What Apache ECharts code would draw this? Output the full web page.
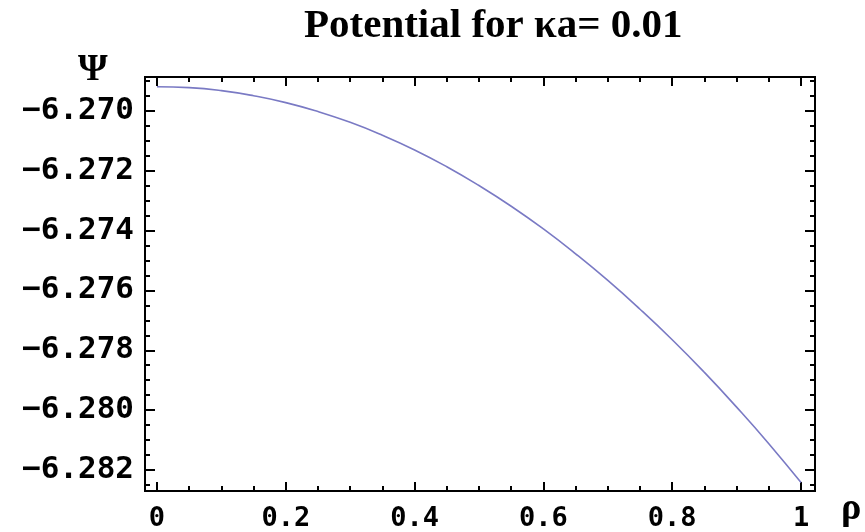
<!DOCTYPE html>
<html>
<head>
<meta charset="utf-8">
<script src="https://cdn.jsdelivr.net/npm/echarts@6/dist/echarts.min.js"></script>
<style>
  html, body { margin: 0; padding: 0; background: #fff; }
  #main { width: 865px; height: 532px; }
</style>
</head>
<body>
<div id="main"></div>
<script>
// 曲线数据
var rho = [0, 0.05, 0.1, 0.15, 0.2, 0.25, 0.3, 0.35, 0.4, 0.45, 0.5,
           0.55, 0.6, 0.65, 0.7, 0.75, 0.8, 0.85, 0.9, 0.95, 1.0];
var psi = [-6.26920, -6.26923, -6.26933, -6.26950, -6.26973, -6.27003,
           -6.27039, -6.27082, -6.27131, -6.27187, -6.27250, -6.27319,
           -6.27395, -6.27478, -6.27567, -6.27663, -6.27765, -6.27874,
           -6.27990, -6.28112, -6.28242];

// 刻度
var xMajor = [0, 0.2, 0.4, 0.6, 0.8, 1];
var xMinor = [0.05, 0.1, 0.15, 0.25, 0.3, 0.35, 0.45, 0.5, 0.55,
              0.65, 0.7, 0.75, 0.85, 0.9, 0.95];
var yMajor = [-6.282, -6.280, -6.278, -6.276, -6.274, -6.272, -6.270];
var yMinor = [-6.2825, -6.2815, -6.281, -6.2805, -6.2795, -6.279, -6.2785,
              -6.2775, -6.277, -6.2765, -6.2755, -6.275, -6.2745,
              -6.2735, -6.273, -6.2725, -6.2715, -6.271, -6.2705,
              -6.2695, -6.269];

var xMin = -0.0186, xMax = 1.0217;
var yMin = -6.2827, yMax = -6.268875;

var myChart = echarts.init(document.getElementById('main'));

function xAx(pos, ticks, len, labels) {
	return {
		type: 'value', position: pos, min: xMin, max: xMax,
		axisLine: { show: true, onZero: false, lineStyle: { color: '#000', width: 2 } },
		axisTick: { show: true, inside: true, length: len, customValues: ticks,
			lineStyle: { color: '#000', width: 2 } },
		axisLabel: labels ? {
			show: true, customValues: ticks, margin: 14,
			fontFamily: 'DejaVu Sans Mono', fontWeight: 'bold', fontSize: 27, color: '#000',
			formatter: function (v) { return v === 0 || v === 1 ? String(v) : v.toFixed(1); }
		} : { show: false },
		splitLine: { show: false }
	};
}
function yAx(pos, ticks, len, labels) {
	return {
		type: 'value', position: pos, min: yMin, max: yMax,
		axisLine: { show: true, onZero: false, lineStyle: { color: '#000', width: 2 } },
		axisTick: { show: true, inside: true, length: len, customValues: ticks,
			lineStyle: { color: '#000', width: 2 } },
		axisLabel: labels ? {
			show: true, customValues: ticks, margin: 11,
			fontFamily: 'DejaVu Sans Mono', fontWeight: 'bold', fontSize: 31, color: '#000',
			formatter: function (v) { return v.toFixed(3).replace('-', '\u2212'); }
		} : { show: false },
		splitLine: { show: false }
	};
}

var data = rho.map(function (r, i) { return [r, psi[i]]; });

option = {
	backgroundColor: '#fff',
	animation: false,
	title: {
		text: 'Potential for κa= 0.01',
		left: 299, top: 1,
		textStyle: { fontFamily: 'Liberation Serif', fontWeight: 'bold', fontSize: 41, color: '#000' }
	},
	grid: { left: 145, right: 50, top: 77, bottom: 41, containLabel: false },
	xAxis: [
		xAx('bottom', xMajor, 9, true),
		xAx('bottom', xMinor, 5, false),
		xAx('top', xMajor, 9, false),
		xAx('top', xMinor, 5, false)
	],
	yAxis: [
		yAx('left', yMajor, 10, true),
		yAx('left', yMinor, 5, false),
		yAx('right', yMajor, 10, false),
		yAx('right', yMinor, 5, false)
	],
	graphic: [
		{ type: 'text', left: 78, top: 51,
		  style: { text: 'Ψ', font: 'bold 38px "Liberation Serif"', fill: '#000' } },
		{ type: 'text', left: 841, top: 490,
		  style: { text: 'ρ', font: 'bold 38px "Liberation Serif"', fill: '#000' } }
	],
	series: [{
		type: 'line',
		xAxisIndex: 0, yAxisIndex: 0,
		data: data,
		smooth: true,
		showSymbol: false,
		lineStyle: { color: '#7a7ac4', width: 1.6 }
	}]
};
myChart.setOption(option);
window.onresize = myChart.resize;
</script>
</body>
</html>
